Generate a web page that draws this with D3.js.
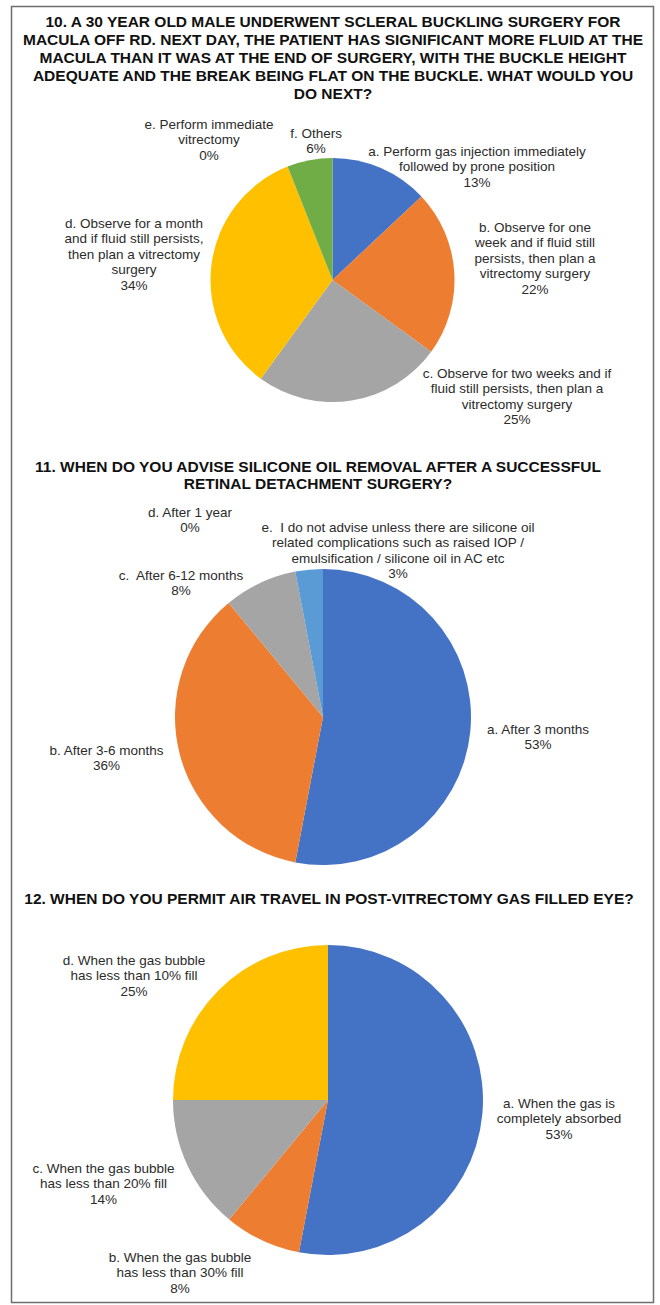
<!DOCTYPE html>
<html>
<head>
<meta charset="utf-8">
<script src="https://cdn.jsdelivr.net/npm/d3@7"></script>
<style>
  html, body { margin: 0; padding: 0; background: #fff; }
  svg { display: block; }
  text { font-family: "Liberation Sans", Arial, sans-serif; white-space: pre; }
</style>
</head>
<body>
<svg id="chart" width="660" height="1305"></svg>
<script>
// ---- Question 10 ----
const q10Title = [
  "10. A 30 YEAR OLD MALE UNDERWENT SCLERAL BUCKLING SURGERY FOR",
  "MACULA OFF RD. NEXT DAY, THE PATIENT HAS SIGNIFICANT MORE FLUID AT THE",
  "MACULA THAN IT WAS AT THE END OF SURGERY, WITH THE BUCKLE HEIGHT",
  "ADEQUATE AND THE BREAK BEING FLAT ON THE BUCKLE. WHAT WOULD YOU",
  "DO NEXT?"
];
const q10Categories = [
  ["a. Perform gas injection immediately", "followed by prone position"],
  ["b. Observe for one", "week and if fluid still", "persists, then plan a", "vitrectomy surgery"],
  ["c. Observe for two weeks and if", "fluid still persists, then plan a", "vitrectomy surgery"],
  ["d. Observe for a month", "and if fluid still persists,", "then plan a vitrectomy", "surgery"],
  ["e. Perform immediate", "vitrectomy"],
  ["f. Others"]
];
const q10Values = [13, 22, 25, 34, 0, 6];

// ---- Question 11 ----
const q11Title = [
  "11. WHEN DO YOU ADVISE SILICONE OIL REMOVAL AFTER A SUCCESSFUL",
  "RETINAL DETACHMENT SURGERY?"
];
const q11Categories = [
  ["a. After 3 months"],
  ["b. After 3-6 months"],
  ["c.  After 6-12 months"],
  ["d. After 1 year"],
  ["e.  I do not advise unless there are silicone oil", "related complications such as raised IOP /", "emulsification / silicone oil in AC etc"]
];
const q11Values = [53, 36, 8, 0, 3];

// ---- Question 12 ----
const q12Title = [
  "12. WHEN DO YOU PERMIT AIR TRAVEL IN POST-VITRECTOMY GAS FILLED EYE?"
];
const q12Categories = [
  ["a. When the gas is", "completely absorbed"],
  ["b. When the gas bubble", "has less than 30% fill"],
  ["c. When the gas bubble", "has less than 20% fill"],
  ["d. When the gas bubble", "has less than 10% fill"]
];
const q12Values = [53, 8, 14, 25];

// Slice colours, in category order
const palette = ["#4472C4", "#ED7D31", "#A5A5A5", "#FFC000", "#5B9BD5", "#70AD47"];

// Layout of each panel: pie centre/radius, title placement, label anchors
// (label anchors are offsets from the pie centre to the first text line)
const panels = [
  {
    title: q10Title, categories: q10Categories, values: q10Values,
    titleX: 333, titleY: 21, titleStep: 18,
    cx: 332.5, cy: 280, r: 122,
    labelAt: [[144.5, -129], [202.5, -53], [184.5, 93], [-198.5, -57], [-123.5, -156], [-16.5, -147]]
  },
  {
    title: q11Title, categories: q11Categories, values: q11Values,
    titleX: 318, titleY: 466, titleStep: 17,
    cx: 323, cy: 717, r: 148,
    labelAt: [[215, 12], [-216.5, 33], [-142, -142], [-133, -205], [75, -190]]
  },
  {
    title: q12Title, categories: q12Categories, values: q12Values,
    titleX: 329, titleY: 898, titleStep: 17,
    cx: 328, cy: 1100, r: 155,
    labelAt: [[231, 3], [-148, 157], [-224.5, 68], [-194, -140]]
  }
];

const svg = d3.select("#chart");

// outer frame
svg.append("rect")
  .attr("x", 11.5).attr("y", 6.5)
  .attr("width", 642).attr("height", 1296)
  .attr("fill", "none")
  .attr("stroke", "#6e6e6e")
  .attr("stroke-width", 1.5);

const pie = d3.pie().sort(null).value(d => d);
const lineStep = 15.5;

panels.forEach((p, pi) => {
  const g = svg.append("g").attr("class", "panel-" + pi);

  // title
  g.append("g").selectAll("text")
    .data(p.title)
    .join("text")
    .attr("x", p.titleX)
    .attr("y", (d, i) => p.titleY + i * p.titleStep)
    .attr("text-anchor", "middle")
    .attr("dominant-baseline", "central")
    .attr("font-size", 15.5)
    .attr("font-weight", "bold")
    .attr("fill", "#111")
    .text(d => d);

  // slices
  const color = d3.scaleOrdinal().domain(d3.range(p.values.length)).range(palette);
  const arc = d3.arc().innerRadius(0).outerRadius(p.r);
  const arcs = pie(p.values);

  g.append("g")
    .attr("transform", `translate(${p.cx},${p.cy})`)
    .selectAll("path")
    .data(arcs)
    .join("path")
    .attr("d", arc)
    .attr("fill", (d, i) => color(i));

  // data labels: category text followed by the percentage
  const labels = g.append("g")
    .attr("transform", `translate(${p.cx},${p.cy})`)
    .selectAll("g")
    .data(arcs)
    .join("g")
    .attr("transform", (d, i) => `translate(${p.labelAt[i][0]},${p.labelAt[i][1]})`);

  labels.each(function (d, i) {
    const lines = p.categories[i].concat([d3.format("d")(d.data) + "%"]);
    d3.select(this).selectAll("text")
      .data(lines)
      .join("text")
      .attr("x", 0)
      .attr("y", (t, j) => j * lineStep)
      .attr("text-anchor", "middle")
      .attr("dominant-baseline", "central")
      .attr("font-size", 13.5)
      .attr("fill", "#2b2b2b")
      .text(t => t);
  });
});
</script>
</body>
</html>
